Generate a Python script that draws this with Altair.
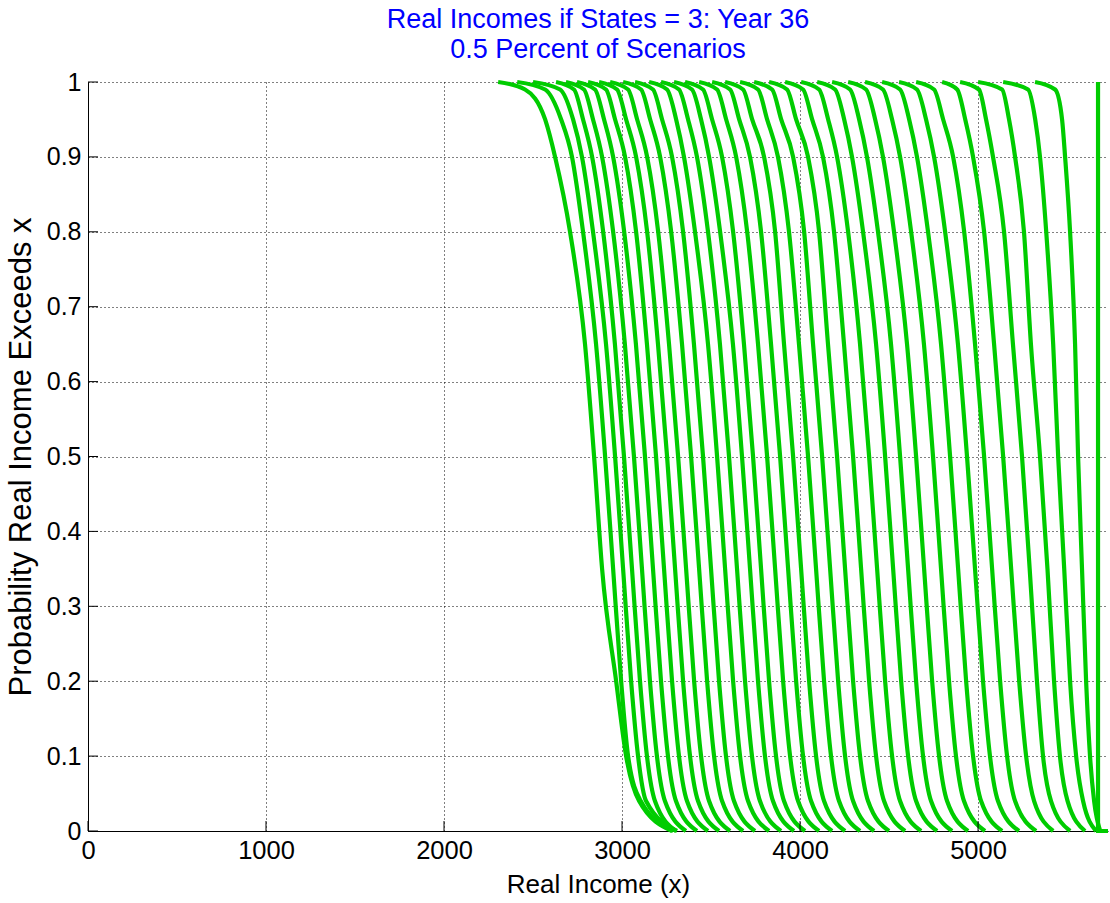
import altair as alt
import pandas as pd

# Exceedance probability levels at which each scenario curve is sampled
P_LEVELS = [1.0, 0.99, 0.95, 0.9, 0.8, 0.65, 0.5, 0.35, 0.2, 0.1, 0.04, 0.0]

# Real income (x) at each probability level, one entry per strategy curve
X_P100 = [2304, 2411, 2500, 2629, 2685, 2747, 2809, 2871, 2933, 3006, 3073, 3152,
          3219, 3292, 3354, 3433, 3506, 3579, 3663, 3742, 3826, 3916, 4006, 4096,
          4180, 4270, 4365, 4461, 4556, 4652, 4798, 4899, 5000, 5141, 5320]
X_P099 = [2455, 2568, 2652, 2730, 2786, 2848, 2910, 2972, 3034, 3107, 3174, 3253,
          3320, 3393, 3455, 3534, 3607, 3680, 3764, 3843, 3927, 4017, 4107, 4197,
          4281, 4371, 4466, 4562, 4657, 4753, 4883, 5005, 5135, 5281, 5433]
X_P095 = [2568, 2658, 2725, 2781, 2837, 2899, 2961, 3023, 3085, 3158, 3225, 3304,
          3371, 3444, 3506, 3585, 3658, 3731, 3815, 3894, 3978, 4068, 4158, 4248,
          4332, 4422, 4517, 4613, 4708, 4804, 4928, 5045, 5174, 5321, 5472]
X_P090 = [2624, 2719, 2775, 2832, 2888, 2950, 3017, 3079, 3141, 3214, 3281, 3348,
          3421, 3489, 3562, 3641, 3719, 3798, 3876, 3961, 4045, 4129, 4208, 4292,
          4376, 4466, 4562, 4657, 4753, 4860, 4972, 5084, 5208, 5348, 5489]
X_P080 = [2708, 2781, 2837, 2894, 2950, 3012, 3079, 3141, 3203, 3276, 3343, 3410,
          3483, 3551, 3624, 3703, 3781, 3860, 3938, 4023, 4107, 4191, 4270, 4354,
          4438, 4528, 4624, 4719, 4815, 4922, 5034, 5146, 5258, 5383, 5517]
X_P065 = [2792, 2854, 2910, 2960, 3016, 3078, 3140, 3202, 3264, 3337, 3404, 3483,
          3550, 3623, 3685, 3764, 3837, 3910, 3994, 4073, 4157, 4247, 4337, 4427,
          4511, 4601, 4696, 4792, 4887, 4983, 5090, 5196, 5297, 5422, 5545]
X_P050 = [2843, 2905, 2961, 3011, 3067, 3129, 3191, 3253, 3315, 3388, 3455, 3534,
          3601, 3674, 3736, 3815, 3888, 3961, 4045, 4124, 4208, 4298, 4388, 4478,
          4562, 4652, 4747, 4843, 4938, 5034, 5141, 5247, 5348, 5450, 5562]
X_P035 = [2888, 2950, 3006, 3056, 3112, 3174, 3236, 3298, 3360, 3433, 3500, 3579,
          3646, 3719, 3781, 3860, 3933, 4006, 4090, 4169, 4253, 4343, 4433, 4523,
          4607, 4697, 4792, 4888, 4983, 5079, 5186, 5290, 5390, 5484, 5584]
X_P020 = [2967, 2995, 3051, 3101, 3157, 3219, 3281, 3343, 3405, 3478, 3545, 3624,
          3691, 3764, 3826, 3905, 3978, 4051, 4135, 4214, 4298, 4388, 4478, 4568,
          4652, 4742, 4837, 4933, 5028, 5124, 5231, 5331, 5427, 5517, 5607]
X_P010 = [3023, 3034, 3090, 3140, 3196, 3258, 3320, 3382, 3444, 3517, 3584, 3663,
          3730, 3803, 3865, 3944, 4017, 4090, 4174, 4253, 4337, 4427, 4517, 4607,
          4691, 4781, 4876, 4972, 5067, 5163, 5270, 5365, 5460, 5551, 5629]
X_P004 = [3096, 3105, 3135, 3185, 3241, 3303, 3365, 3427, 3489, 3562, 3629, 3708,
          3775, 3848, 3910, 3989, 4062, 4135, 4219, 4298, 4382, 4472, 4562, 4652,
          4736, 4826, 4921, 5017, 5112, 5208, 5315, 5410, 5503, 5590, 5652]
X_P000 = [3281, 3287, 3309, 3303, 3359, 3421, 3483, 3545, 3607, 3680, 3747, 3826,
          3893, 3966, 4028, 4107, 4180, 4253, 4337, 4416, 4500, 4590, 4680, 4770,
          4854, 4944, 5039, 5135, 5230, 5326, 5422, 5517, 5601, 5663, 5686]

# The riskless strategy: a single income level, a near-vertical step
STEP_X = [5674, 5674, 5730]
STEP_P = [1.0, 0.0, 0.0]

X_TICKS = [0, 1000, 2000, 3000, 4000, 5000]
Y_TICKS = [0, 0.1, 0.2, 0.3, 0.4, 0.5, 0.6, 0.7, 0.8, 0.9, 1]
X_MAX = 5730

FONT = "Liberation Sans"
GREEN = "#00cc00"

columns = [X_P100, X_P099, X_P095, X_P090, X_P080, X_P065,
           X_P050, X_P035, X_P020, X_P010, X_P004, X_P000]
rows = []
for k in range(len(X_P050)):
    for p, col in zip(P_LEVELS, columns):
        rows.append({"curve": k, "x": col[k], "p": p})
curves = pd.DataFrame(rows)
step = pd.DataFrame({"x": STEP_X, "p": STEP_P, "i": list(range(len(STEP_X)))})

xscale = alt.Scale(domain=[0, X_MAX], nice=False, zero=False)
yscale = alt.Scale(domain=[0, 1], nice=False)

x_axis = alt.Axis(values=X_TICKS, title="Real Income (x)", format="d",
                  grid=True, gridDash=[1, 3], gridColor="black",
                  gridOpacity=1, tickSize=0, labelPadding=7,
                  labelFontSize=25.5, labelFont=FONT, labelColor="black",
                  titleFont=FONT, titleFontSize=26, titleFontWeight="normal",
                  titleColor="black", titlePadding=8, domainColor="black",
                  labelFlush=False)
y_axis = alt.Axis(values=Y_TICKS, title="Probability Real Income Exceeds x",
                  format=".1~f", grid=True, gridDash=[1, 3],
                  gridColor="black", gridOpacity=1, tickSize=0,
                  labelPadding=7, labelFontSize=25, labelFont=FONT,
                  labelColor="black", titleFont=FONT, titleFontSize=31,
                  titleFontWeight="normal", titleColor="black",
                  titlePadding=9, domainColor="black", labelFlush=False)

lines = alt.Chart(curves).mark_line(
    color=GREEN, strokeWidth=4.2, interpolate="monotone", clip=False
).encode(
    x=alt.X("x:Q", scale=xscale, axis=x_axis),
    y=alt.Y("p:Q", scale=yscale, axis=y_axis),
    detail="curve:N",
)

riskless = alt.Chart(step).mark_line(
    color=GREEN, strokeWidth=4.2, clip=False
).encode(
    x=alt.X("x:Q", scale=xscale),
    y=alt.Y("p:Q", scale=yscale),
    order="i:Q",
)

# Inward-pointing tick marks along the bottom and left axes
xt = alt.Chart(pd.DataFrame({"x": X_TICKS})).mark_rule(
    color="black", strokeWidth=1
).encode(
    x=alt.X("x:Q", scale=xscale),
    y=alt.value(749), y2=alt.value(739),
)
yt = alt.Chart(pd.DataFrame({"p": Y_TICKS})).mark_rule(
    color="black", strokeWidth=1
).encode(
    y=alt.Y("p:Q", scale=yscale),
    x=alt.value(0), x2=alt.value(10),
)

chart = alt.layer(lines, riskless, xt, yt).properties(
    width=1020,
    height=749,
    autosize="none",
    padding={"left": 88, "top": 82, "right": 2, "bottom": 72},
    title=alt.TitleParams(
        text=["Real Incomes if States = 3: Year 36", "0.5 Percent of Scenarios"],
        color="#0000ff", font=FONT, fontSize=27, fontWeight="normal",
        anchor="middle", lineHeight=30, offset=6,
    ),
).configure(
    background="white",
    view=alt.ViewConfig(stroke=None),
)

chart.save("out.html", embed_options={"renderer": "svg", "actions": False})
